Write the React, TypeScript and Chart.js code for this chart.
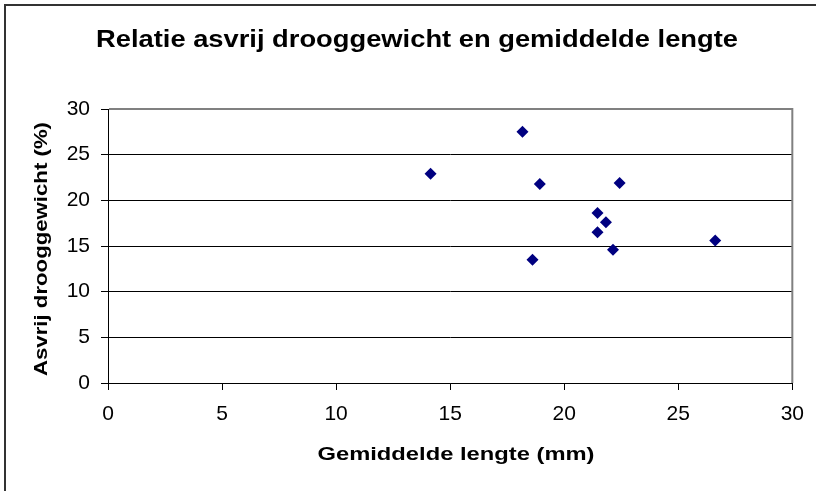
import React, { useEffect, useRef } from "react";
import { Chart, registerables } from "chart.js";

Chart.register(...registerables);

// ---- data ----
const meanLength = [18.17, 14.14, 18.93, 22.43, 21.46, 21.83, 21.46, 26.62, 22.14, 18.61];
const ashFreeDryWeight = [27.5, 22.9, 21.8, 21.9, 18.6, 17.6, 16.5, 15.6, 14.6, 13.5];
const xTickValues = [0, 5, 10, 15, 20, 25, 30];
const yTickValues = [0, 5, 10, 15, 20, 25, 30];
const chartTitle = "Relatie asvrij drooggewicht en gemiddelde lengte";
const xAxisTitle = "Gemiddelde lengte (mm)";
const yAxisTitle = "Asvrij drooggewicht (%)";

const FONT = '"Liberation Sans", Arial, sans-serif';

function drawStretched(
  ctx: CanvasRenderingContext2D,
  text: string,
  font: string,
  cx: number,
  cy: number,
  targetWidth: number,
  rotation: number
) {
  ctx.save();
  ctx.font = font;
  ctx.fillStyle = "#000";
  ctx.textAlign = "center";
  ctx.textBaseline = "middle";
  const w = ctx.measureText(text).width;
  ctx.translate(cx, cy);
  ctx.rotate(rotation);
  ctx.scale(targetWidth / w, 1);
  ctx.fillText(text, 0, 0);
  ctx.restore();
}

const decorPlugin = {
  id: "decor",
  afterDraw(chart: any) {
    const { ctx, chartArea: a } = chart;
    ctx.save();
    // plot area border (gray, top and right)
    ctx.strokeStyle = "#808080";
    ctx.lineWidth = 2;
    ctx.beginPath();
    ctx.moveTo(a.left + 1, a.top);
    ctx.lineTo(a.right, a.top);
    ctx.lineTo(a.right, a.bottom);
    ctx.stroke();
    // outer chart frame (left and top visible)
    ctx.fillStyle = "#333";
    ctx.fillRect(4, 4, chart.width, 2);
    ctx.fillRect(4, 4, 2, chart.height);
    ctx.restore();
    // titles
    drawStretched(ctx, chartTitle, `bold 23px ${FONT}`, 417, 41, 642, 0);
    drawStretched(ctx, xAxisTitle, `bold 18px ${FONT}`, 456, 455, 277, 0);
    drawStretched(ctx, yAxisTitle, `bold 18px ${FONT}`, 42, 249, 254, -Math.PI / 2);
  },
};

export default function App() {
  const canvasRef = useRef<HTMLCanvasElement | null>(null);

  useEffect(() => {
    document.body.style.margin = "0";
    const canvas = canvasRef.current;
    if (!canvas) return;
    const chart = new Chart(canvas, {
      type: "scatter",
      data: {
        datasets: [
          {
            label: "Asvrij drooggewicht",
            data: meanLength.map((x, i) => ({ x, y: ashFreeDryWeight[i] })),
            pointStyle: "rectRot",
            pointRadius: 6,
            pointHoverRadius: 6,
            backgroundColor: "#000080",
            borderColor: "#000080",
            borderWidth: 0,
          },
        ],
      },
      options: {
        animation: false,
        responsive: false,
        devicePixelRatio: 1,
        events: [],
        layout: { padding: { left: 0, right: 16, top: 109, bottom: 0 } },
        plugins: {
          legend: { display: false },
          title: { display: false },
          tooltip: { enabled: false },
        },
        scales: {
          x: {
            type: "linear",
            min: 0,
            max: 30,
            afterBuildTicks: (scale: any) => {
              scale.ticks = xTickValues.map((v) => ({ value: v }));
            },
            afterFit: (scale: any) => {
              scale.height = 108;
            },
            ticks: {
              color: "#000",
              font: { family: FONT, size: 21 },
              padding: 12,
              maxRotation: 0,
            },
            grid: {
              drawOnChartArea: false,
              drawTicks: true,
              tickLength: 7,
              tickColor: "#000",
            },
            border: { display: true, color: "#000", width: 1 },
            title: { display: false },
          },
          y: {
            type: "linear",
            min: 0,
            max: 30,
            afterBuildTicks: (scale: any) => {
              scale.ticks = yTickValues.map((v) => ({ value: v }));
            },
            afterFit: (scale: any) => {
              scale.width = 108;
            },
            ticks: {
              color: "#000",
              font: { family: FONT, size: 21 },
              padding: 11,
            },
            grid: {
              color: "#000",
              lineWidth: 1,
              drawTicks: true,
              tickLength: 7,
              tickColor: "#000",
            },
            border: { display: true, color: "#000", width: 1 },
            title: { display: false },
          },
        },
      },
      plugins: [decorPlugin],
    } as any);
    return () => chart.destroy();
  }, []);

  return (
    <div style={{ width: 816, height: 491, background: "#fff" }}>
      <canvas ref={canvasRef} width={816} height={491} style={{ display: "block", width: 816, height: 491 }} />
    </div>
  );
}
